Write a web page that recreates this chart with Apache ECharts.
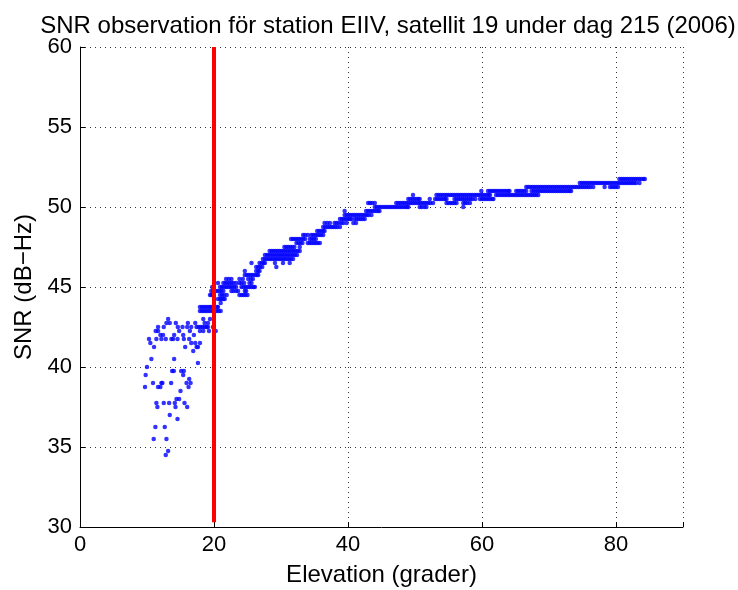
<!DOCTYPE html>
<html><head><meta charset="utf-8">
<script src="https://cdn.jsdelivr.net/npm/echarts@6/dist/echarts.min.js"></script>
<style>html,body{margin:0;padding:0;background:#fff}#c{width:738px;height:590px}</style>
</head><body><div id="c"></div>
<script>
// SNR levels (dB-Hz) and the elevations (degrees) at which each level was observed
const snrLevels = [34.5, 34.75, 35.5, 36.25, 36.75, 37.0, 37.5, 37.75, 38.0, 38.5, 38.75, 39.0, 39.25, 39.5, 39.75, 40.0, 40.25, 40.5, 41.0, 41.25, 41.5, 41.75, 42.0, 42.25, 42.5, 42.75, 43.0, 43.5, 43.75, 44.0, 44.25, 44.5, 44.75, 45.0, 45.25, 45.5, 45.75, 46.0, 46.25, 46.5, 46.75, 47.0, 47.25, 47.5, 47.75, 48.0, 48.25, 48.5, 48.75, 49.0, 49.25, 49.5, 49.75, 50.0, 50.25, 50.5, 50.75, 51.0, 51.25, 51.5, 51.75];
const elevAtLevel = [
  [12.8],
  [13.15],
  [11.0, 12.9],
  [11.25, 12.65],
  [14.55],
  [13.4],
  [11.55, 14.25, 16.0],
  [11.4, 12.5, 13.3, 14.15, 15.6],
  [14.4, 14.8],
  [15.0],
  [9.7, 11.65, 12.0, 16.2],
  [10.9, 12.15, 12.3, 13.6, 15.9, 16.5],
  [16.3],
  [9.8, 15.4],
  [13.75, 14.0, 15.1, 15.5],
  [10.0],
  [17.6],
  [10.65, 14.05],
  [16.9],
  [11.05, 15.7, 17.4, 17.6],
  [10.5, 16.6, 17.2, 17.9],
  [10.3, 11.4, 12.15, 12.8, 13.65, 13.9, 14.55, 15.5, 16.3],
  [12.0, 12.4, 14.05, 15.4, 17.0],
  [11.3, 11.65, 14.8, 16.4, 17.9, 18.4, 19.25, 20.25],
  [11.65, 12.5, 14.6, 15.3, 16.0, 16.6, 17.4, 17.7, 18.0, 18.3, 18.6, 18.9, 19.1, 19.85],
  [12.9, 13.4, 14.3, 16.1, 17.2, 18.6, 19.1],
  [13.15, 18.4, 19.4],
  [17.9, 18.2, 18.5, 18.8, 19.1, 19.4, 19.75, 20.1, 20.4, 20.7, 21.0],
  [17.9, 18.2, 18.5, 18.8, 19.1, 19.4, 19.6, 20.45, 20.6],
  [21.0],
  [20.6, 20.9, 21.1, 21.4, 21.6],
  [19.4, 19.6, 19.85, 20.9, 21.2, 21.5, 21.9, 23.8, 24.1, 24.4, 24.7, 25.0],
  [19.6, 19.9, 20.2, 20.5, 20.8, 21.1, 21.4, 22.6, 22.9, 23.3, 23.6, 24.6, 24.8],
  [19.75, 20.0, 20.9, 21.2, 21.5, 21.8, 22.1, 22.4, 22.7, 23.0, 23.3, 24.1, 24.4, 24.7, 25.0, 25.3, 25.6, 25.9, 26.1],
  [20.6, 21.4, 21.7, 22.0, 22.3, 22.6, 22.9, 23.3, 23.8, 24.1, 24.5, 25.3, 25.6],
  [21.8, 22.2, 22.6, 23.8, 24.3, 25.1, 25.5, 25.8],
  [24.6, 24.9, 25.2, 25.5, 25.8, 26.1, 26.4, 26.6],
  [24.6, 26.3, 26.6, 26.8],
  [26.3, 26.6, 26.9, 27.2, 29.3],
  [25.6, 26.8, 27.1, 27.4, 27.6, 29.1, 30.3, 31.3],
  [27.3, 27.6, 27.9, 28.2, 28.5, 28.8, 29.1, 29.4, 29.7, 30.0, 30.3, 30.6, 30.9, 31.2, 31.5, 31.8],
  [27.6, 27.9, 28.2, 28.5, 28.8, 29.1, 29.4, 29.7, 30.0, 30.3, 30.6, 30.9, 31.2, 31.5, 31.8, 32.1, 32.4],
  [28.3, 28.6, 28.9, 29.2, 29.5, 29.8, 30.1, 30.4, 30.7, 31.0, 31.3, 31.6, 31.9, 32.2, 32.5, 32.8],
  [30.5, 30.8, 31.1, 31.4, 31.7, 32.0, 32.8],
  [32.3, 32.6, 32.9, 33.2, 34.0, 34.3, 34.6, 34.9, 35.2, 35.5, 35.8],
  [31.5, 31.8, 32.1, 32.4, 32.7, 33.0, 33.3, 33.6, 34.3, 34.6, 34.9, 35.2],
  [33.3, 33.6, 34.0, 34.5, 34.8, 35.1, 35.4, 35.7, 36.0, 36.3],
  [35.4, 35.7, 36.0, 36.3, 36.5],
  [36.3, 36.6, 36.9, 37.2, 37.5, 37.8, 38.1, 38.4, 38.8],
  [36.5, 36.9, 37.3, 38.0, 38.3, 38.6, 39.0, 39.3, 39.8, 40.8, 41.2],
  [38.8, 39.1, 39.4, 39.7, 40.0, 40.3, 40.5, 41.0, 41.3, 41.6, 41.9, 42.2, 42.5],
  [39.5, 39.8, 40.1, 40.4, 40.7, 41.0, 41.3, 41.6, 41.9, 42.2, 42.5, 42.8, 43.1, 43.5],
  [39.5, 42.7, 43.0, 43.3, 43.6, 43.9, 44.2, 44.5, 44.7],
  [44.0, 44.3, 44.6, 44.9, 45.2, 45.5, 45.8, 46.1, 46.4, 46.7, 47.0, 47.3, 47.6, 47.9, 48.2, 48.5, 48.8, 49.0, 50.7, 51.0, 51.4, 51.7, 57.2],
  [43.0, 43.3, 43.6, 44.0, 47.2, 47.5, 47.8, 48.1, 48.4, 48.7, 49.0, 49.3, 49.6, 49.9, 50.2, 50.5, 50.8, 51.1, 51.4, 51.7, 52.0, 52.3, 52.7, 54.7, 55.0, 55.3, 55.6, 55.9, 56.2, 57.2, 57.5, 57.8, 58.2],
  [49.0, 49.3, 49.6, 49.9, 50.2, 50.5, 50.7, 52.2, 53.0, 53.3, 53.6, 53.9, 54.2, 54.5, 54.7, 55.9, 56.2, 56.5, 56.8, 57.1, 57.4, 57.7, 58.0, 58.3, 58.6, 59.0, 59.7, 60.0, 60.3, 60.6, 60.9, 61.2, 61.5, 61.7],
  [49.7, 53.2, 53.5, 53.8, 54.1, 54.4, 54.7, 55.0, 55.3, 55.6, 55.9, 56.2, 56.5, 56.8, 57.1, 57.4, 57.7, 58.0, 58.3, 58.6, 58.9, 59.2, 59.5, 59.8, 60.1, 60.4, 60.7, 61.0, 61.2, 62.1, 62.4, 62.7, 63.0, 63.3, 63.6, 63.9, 64.2, 64.5, 64.8, 65.1, 65.4, 65.7, 66.0, 66.3, 66.6, 66.9, 67.2, 67.5, 67.8, 68.1, 68.4],
  [59.9, 60.9, 61.2, 61.5, 61.8, 62.1, 62.4, 62.7, 63.0, 63.3, 63.6, 63.9, 64.1, 65.1, 65.4, 65.7, 66.0, 66.3, 66.6, 67.4, 67.7, 68.0, 68.3, 68.6, 68.9, 69.2, 69.5, 69.8, 70.1, 70.4, 70.7, 71.0, 71.3, 71.6, 71.9, 72.2, 72.5, 72.8, 73.1, 73.3],
  [66.6, 66.9, 67.2, 67.5, 67.8, 68.1, 68.4, 68.7, 69.0, 69.3, 69.6, 69.9, 70.2, 70.5, 70.8, 71.1, 71.4, 71.7, 72.0, 72.3, 72.6, 72.9, 73.2, 73.5, 73.8, 74.1, 74.4, 74.7, 75.0, 75.3, 75.6, 75.9, 76.2, 76.6, 78.3, 79.1, 79.4, 79.7, 80.0, 80.3],
  [74.6, 74.9, 75.2, 75.5, 75.8, 76.1, 76.4, 76.7, 77.0, 77.3, 77.6, 77.9, 78.2, 78.5, 78.8, 79.1, 79.4, 79.7, 80.0, 80.3, 80.6, 80.9, 81.2, 81.5, 81.8, 82.1, 82.4, 82.7, 83.0, 83.5],
  [80.5, 80.8, 81.1, 81.4, 81.7, 82.0, 82.3, 82.6, 82.9, 83.2, 83.5, 83.8, 84.1, 84.3]
];
// Elevation cut-off line
const cutoffElevation = 20;
const cutoffSnrRange = [30.3, 60];

const titleText = 'SNR observation för station EIIV, satellit 19 under dag 215 (2006)';
const xName = 'Elevation (grader)';
const yName = 'SNR (dB\u2212Hz)';

const points = [];
snrLevels.forEach((s, i) => elevAtLevel[i].forEach(e => points.push([e, s])));
const cutoffLine = cutoffSnrRange.map(s => [cutoffElevation, s]);

const FONT = '"Liberation Sans", Arial, Helvetica, sans-serif';
const chart = echarts.init(document.getElementById('c'), null, {renderer: 'canvas'});
const gridLine = {show: true, lineStyle: {color: '#333', width: 1, type: [1, 4]}};
chart.setOption({
  animation: false,
  backgroundColor: '#fff',
  title: {
    text: titleText, left: 383, top: 9, textAlign: 'center',
    textStyle: {fontFamily: FONT, fontSize: 24, fontWeight: 'normal', color: '#000'}
  },
  grid: {left: 80, right: 55, top: 47, bottom: 63, containLabel: false, outerBoundsMode: 'none'},
  xAxis: {
    type: 'value', min: 0, max: 90, interval: 20,
    name: xName, nameLocation: 'middle', nameGap: 36,
    nameTextStyle: {fontFamily: FONT, fontSize: 24, color: '#000'},
    axisLine: {show: true, lineStyle: {color: '#000', width: 1}},
    axisTick: {show: true, inside: true, length: 5, lineStyle: {color: '#000'}},
    axisLabel: {fontFamily: FONT, fontSize: 22, color: '#000', margin: 7,
      formatter: v => (v === 90 ? '' : String(v))},
    splitLine: gridLine
  },
  yAxis: {
    type: 'value', min: 30, max: 60, interval: 5,
    name: yName, nameLocation: 'middle', nameGap: 37, nameRotate: 90,
    nameTextStyle: {fontFamily: FONT, fontSize: 24, color: '#000'},
    axisLine: {show: true, lineStyle: {color: '#000', width: 1}},
    axisTick: {show: true, inside: true, length: 5, lineStyle: {color: '#000'}},
    axisLabel: {fontFamily: FONT, fontSize: 22, color: '#000', margin: 8},
    splitLine: gridLine
  },
  series: [
    {type: 'scatter', data: points, symbol: 'circle', symbolSize: 4.5,
      itemStyle: {color: '#0000ff'}, z: 2, silent: true},
    {type: 'line', data: cutoffLine, symbol: 'none', z: 3, silent: true,
      lineStyle: {color: '#ff0000', width: 4}}
  ]
});
</script>
</body></html>
